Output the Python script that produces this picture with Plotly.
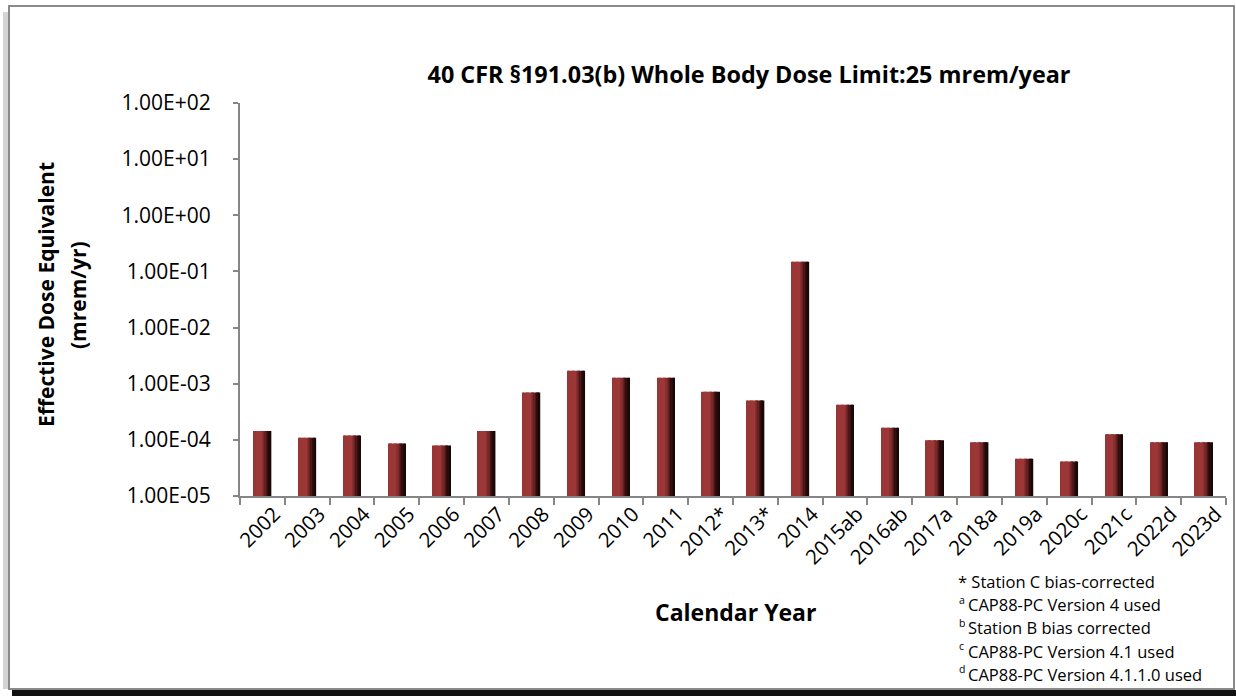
import plotly.graph_objects as go

years = ["2002", "2003", "2004", "2005", "2006", "2007", "2008", "2009", "2010", "2011",
         "2012*", "2013*", "2014", "2015ab", "2016ab", "2017a", "2018a", "2019a",
         "2020c", "2021c", "2022d", "2023d"]
dose = [1.44e-4, 1.09e-4, 1.19e-4, 8.6e-5, 7.9e-5, 1.44e-4, 7.0e-4, 1.70e-3, 1.28e-3, 1.28e-3,
        7.2e-4, 5.0e-4, 1.48e-1, 4.2e-4, 1.65e-4, 9.8e-5, 9.1e-5, 4.6e-5,
        4.1e-5, 1.26e-4, 9.1e-5, 9.1e-5]
y_tickvals = [1e-5, 1e-4, 1e-3, 1e-2, 1e-1, 1e0, 1e1, 1e2]
y_ticktext = ["1.00E-05", "1.00E-04", "1.00E-03", "1.00E-02", "1.00E-01", "1.00E+00", "1.00E+01", "1.00E+02"]
title_text = "40 CFR §191.03(b) Whole Body Dose Limit:25 mrem/year"
ytitle_lines = ["Effective Dose Equivalent", "(mrem/yr)"]
xtitle_text = "Calendar Year"
footnote_first = "* Station C bias-corrected"
footnote_marks = ["a", "b", "c", "d"]
footnote_texts = ["CAP88-PC Version 4 used",
                  "Station B bias corrected",
                  "CAP88-PC Version 4.1 used",
                  "CAP88-PC Version 4.1.1.0 used"]

# ---- styling helpers (cylinder-like horizontal shading of the bars) ----
stops = [(0.0, (152, 52, 52)), (0.45, (158, 56, 56)), (0.65, (112, 36, 36)),
         (0.82, (50, 14, 14)), (1.0, (18, 6, 6))]

def shade(t):
    for (t0, c0), (t1, c1) in zip(stops[:-1], stops[1:]):
        if t0 <= t <= t1:
            f = (t - t0) / (t1 - t0) if t1 > t0 else 0
            return "rgb(%d,%d,%d)" % tuple(round(a + (b - a) * f) for a, b in zip(c0, c1))
    return "rgb(%d,%d,%d)" % stops[-1][1]

W, H = 1236, 696
L, R, T, B = 240, 10, 103, 200
pw, ph = W - L - R, H - T - B

def px(x):
    return (x - L) / pw

def py(y):
    return (H - B - y) / ph

BAR_W = 0.39
N = 14
fig = go.Figure()
for i in range(N):
    fig.add_trace(go.Bar(
        x=years, y=dose, width=BAR_W / N + 0.004, offset=-BAR_W / 2 + i * BAR_W / N,
        marker=dict(color=shade((i + 0.5) / N), line=dict(width=0)),
        showlegend=False, hoverinfo="x+y" if i == 0 else "skip"))

fig.update_layout(
    width=W, height=H, barmode="overlay",
    margin=dict(l=L, r=R, t=T, b=B),
    paper_bgcolor="white", plot_bgcolor="white",
    font=dict(family="Open Sans", color="#000000", size=18),
    showlegend=False,
    title=dict(text=title_text, xref="container", x=749 / W, xanchor="center",
               yref="container", y=1 - 75 / H, yanchor="middle",
               font=dict(size=23.4, family="Open Sans", weight="bold")),
)
fig.update_yaxes(type="log", range=[-5, 2], tickvals=y_tickvals, ticktext=y_ticktext,
                 showgrid=False, zeroline=False, showline=True, linecolor="#868686", linewidth=2,
                 ticks="outside", ticklen=5, tickcolor="#868686", tickwidth=2,
                 tickfont=dict(size=21), ticklabelstandoff=18)
fig.update_xaxes(type="category", showgrid=False, showline=True, linecolor="#868686", linewidth=2,
                 ticks="outside", ticklen=7, tickcolor="#868686", tickwidth=2, tickson="boundaries",
                 tickangle=-45, tickfont=dict(size=20.5), ticklabelshift=12, ticklabelstandoff=-4,
                 mirror=False)

for xpix, t in zip([46, 78], ytitle_lines):
    fig.add_annotation(text=t, xref="paper", yref="paper", x=px(xpix), y=py(295),
                       xanchor="center", yanchor="middle", textangle=-90, showarrow=False,
                       font=dict(size=21, weight="bold"))
fig.add_annotation(text=xtitle_text, xref="paper", yref="paper",
                   x=px(735), y=py(612), xanchor="center", yanchor="middle",
                   showarrow=False, font=dict(size=23, weight="bold"))

fig.add_annotation(text=footnote_first, xref="paper", yref="paper", x=px(956), y=py(581.7),
                   xanchor="left", yanchor="middle", showarrow=False, font=dict(size=16.5))
for k, (m, t) in enumerate(zip(footnote_marks, footnote_texts)):
    yline = 581.7 + 23.1 * (k + 1)
    fig.add_annotation(text=m, xref="paper", yref="paper", x=px(957), y=py(yline - 5),
                       xanchor="left", yanchor="middle", showarrow=False, font=dict(size=10.5))
    fig.add_annotation(text=t, xref="paper", yref="paper", x=px(966), y=py(yline),
                       xanchor="left", yanchor="middle", showarrow=False, font=dict(size=16.5))

# frame with shadow
fig.add_shape(type="rect", xref="paper", yref="paper", x0=px(3), x1=px(8), y0=py(689), y1=py(12),
              fillcolor="#d4d4d4", line=dict(width=0), layer="below")
fig.add_shape(type="rect", xref="paper", yref="paper", x0=px(12), x1=px(1236), y0=py(696), y1=py(690),
              fillcolor="#111111", line=dict(width=0), layer="below")
fig.add_shape(type="rect", xref="paper", yref="paper", x0=px(9), x1=px(1234), y0=py(689), y1=py(6),
              fillcolor="rgba(0,0,0,0)", line=dict(color="#8a8a8a", width=2), layer="below")

fig.write_html("out.html", config={"displayModeBar": False},
               post_script="document.body.style.margin='0';document.body.style.overflow='hidden';")
